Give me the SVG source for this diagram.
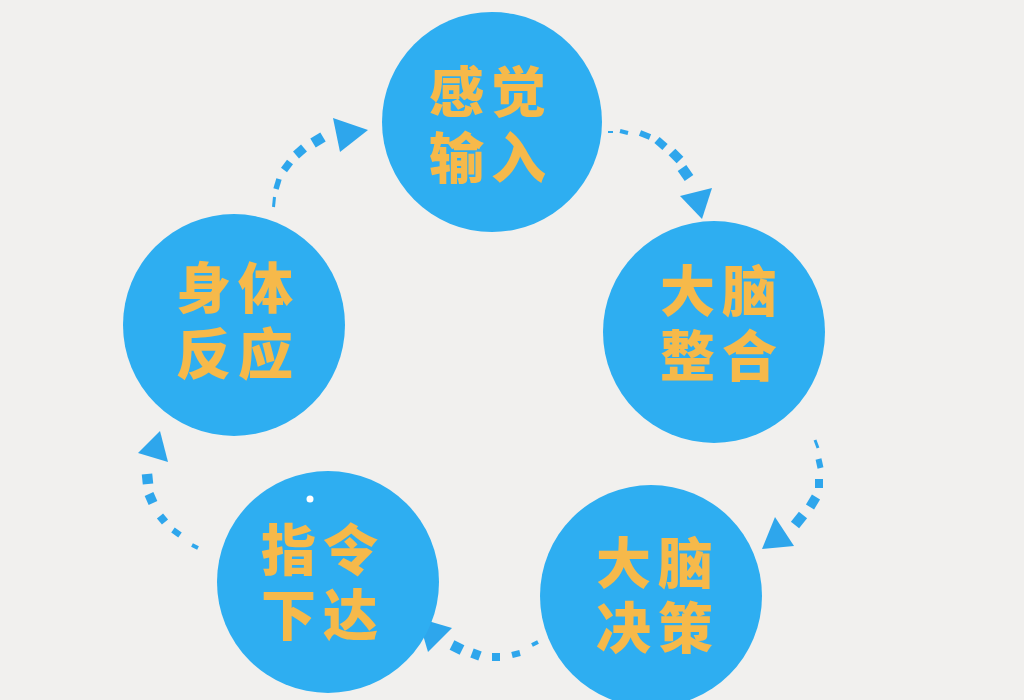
<svg xmlns="http://www.w3.org/2000/svg" width="1024" height="700" viewBox="0 0 1024 700">
<defs>
<style>
.node{fill:#2EAEF1;}
.lbl{font-family:"Noto Sans CJK SC","Noto Sans",sans-serif;font-weight:900;font-size:55px;fill:#F6B94A;letter-spacing:7px;text-anchor:middle;dominant-baseline:central;}
.d{stroke:#2EA6EC;fill:none;stroke-linecap:butt;}
.head{fill:#2EA6EC;}
</style>
</defs>
<rect x="0" y="0" width="1024" height="700" fill="#F1F0EE"/>
<g id="connectors">
<g id="arrow1">
<line class="d" x1="273.5" y1="207" x2="274.5" y2="197" stroke-width="3"/>
<line class="d" x1="276" y1="189" x2="279" y2="179" stroke-width="5.5"/>
<line class="d" x1="284" y1="170" x2="290" y2="162" stroke-width="7.5"/>
<line class="d" x1="296" y1="155" x2="304" y2="148" stroke-width="9"/>
<line class="d" x1="313" y1="143" x2="323" y2="137" stroke-width="10.5"/>
<polygon class="head" points="333,118 368,130 340,152"/>
</g>
<g id="arrow2">
<line class="d" x1="608" y1="132" x2="613" y2="132" stroke-width="2"/>
<line class="d" x1="620" y1="131" x2="628" y2="133" stroke-width="4"/>
<line class="d" x1="640" y1="133" x2="650" y2="137" stroke-width="6"/>
<line class="d" x1="657" y1="140" x2="665" y2="147" stroke-width="8"/>
<line class="d" x1="672" y1="152" x2="680" y2="160" stroke-width="9.5"/>
<line class="d" x1="682" y1="168" x2="689" y2="178" stroke-width="10.5"/>
<polygon class="head" points="680,196 712,188 702,219"/>
</g>
<g id="arrow3">
<line class="d" x1="815" y1="440" x2="818" y2="448" stroke-width="3"/>
<line class="d" x1="818.5" y1="459" x2="820.5" y2="468" stroke-width="6"/>
<line class="d" x1="819" y1="479" x2="819" y2="488" stroke-width="8"/>
<line class="d" x1="816" y1="497" x2="810" y2="507" stroke-width="9.5"/>
<line class="d" x1="803" y1="515" x2="795" y2="525" stroke-width="10.5"/>
<polygon class="head" points="775,517 794,546 762,549"/>
</g>
<g id="arrow4">
<line class="d" x1="538" y1="642" x2="532" y2="645" stroke-width="4"/>
<line class="d" x1="520" y1="653" x2="512" y2="655" stroke-width="6"/>
<line class="d" x1="500" y1="657" x2="492" y2="657" stroke-width="8"/>
<line class="d" x1="480" y1="656" x2="472" y2="653" stroke-width="9.5"/>
<line class="d" x1="462" y1="650" x2="452" y2="645" stroke-width="10.5"/>
<polygon class="head" points="452,628 428,652 418,618"/>
</g>
<g id="arrow5">
<line class="d" x1="198" y1="548" x2="192" y2="545" stroke-width="4"/>
<line class="d" x1="180" y1="535" x2="173" y2="530" stroke-width="6"/>
<line class="d" x1="165" y1="522" x2="160" y2="516" stroke-width="8"/>
<line class="d" x1="153" y1="503" x2="149" y2="494" stroke-width="9.5"/>
<line class="d" x1="148" y1="484" x2="147" y2="474" stroke-width="10.5"/>
<polygon class="head" points="138,453 160,431 168,462"/>
</g>
</g>
<g id="node-ganjue">
<circle class="node" cx="492" cy="122" r="110"/>
<text class="lbl"><tspan x="491" y="88">感觉</tspan><tspan x="491" y="154">输入</tspan></text>
</g>
<g id="node-zhenghe">
<circle class="node" cx="714" cy="332" r="111"/>
<text class="lbl"><tspan x="722" y="287">大脑</tspan><tspan x="722" y="352">整合</tspan></text>
</g>
<g id="node-juece">
<circle class="node" cx="651" cy="596" r="111"/>
<text class="lbl"><tspan x="658" y="559">大脑</tspan><tspan x="658" y="624">决策</tspan></text>
</g>
<g id="node-zhiling">
<circle class="node" cx="328" cy="582" r="111"/>
<circle cx="310" cy="499" r="3.5" fill="#FFFFFF"/>
<text class="lbl"><tspan x="323" y="546">指令</tspan><tspan x="323" y="611">下达</tspan></text>
</g>
<g id="node-shenti">
<circle class="node" cx="234" cy="325" r="111"/>
<text class="lbl"><tspan x="238" y="284">身体</tspan><tspan x="238" y="350">反应</tspan></text>
</g>
</svg>
